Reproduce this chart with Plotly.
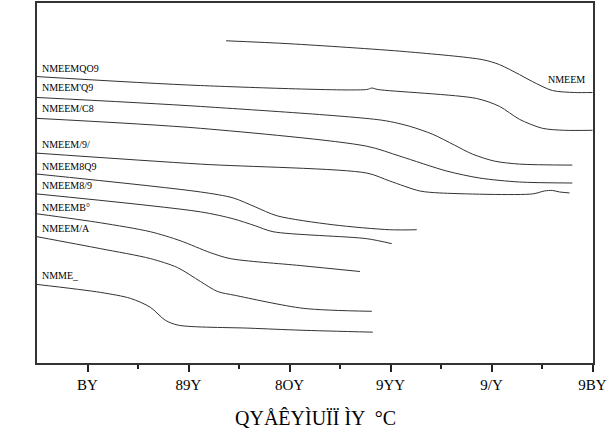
import plotly.graph_objects as go

# Temperature (°C) and heat-flow (a.u.)
temp_T = [134.9, 160.2, 206.4, 236.5, 243.2, 251.1, 256.2, 264.1, 272.8, 280]
flow_T = [324, 321, 313, 305, 300, 290, 283, 274, 272, 272]

temp_A = [60, 124.7, 190.6, 192.6, 195, 234.1, 243.2, 251.1, 260.2, 268.9, 280]
flow_A = [288, 279, 275, 276.5, 275, 266, 258, 245, 236, 234, 234]

temp_B = [60, 124.7, 197.0, 207.6, 216.7, 225.4, 232.5, 241.2, 251.1, 272.0]
flow_B = [267, 258, 244, 238, 230, 219, 210, 203, 200, 199]

temp_C = [60, 124.7, 190.6, 203.7, 222.3, 235.3, 251.1, 272.0]
flow_C = [246, 236, 218, 208, 193, 186, 182, 181]

temp_D = [60, 124.7, 190.6, 199.7, 211.6, 219.5, 256.2, 261.0, 264.1, 266.9, 270.9]
flow_D = [211, 200, 191, 183, 173, 171, 170, 173, 173.5, 172, 171]

temp_E = [60, 124.7, 137.7, 146.4, 155.1, 177.2, 199.7, 210.4]
flow_E = [190, 172, 166, 157, 148, 139, 134, 134]

temp_F = [60, 124.7, 137.7, 146.4, 153.5, 190.6, 200.5]
flow_F = [170, 152, 145, 138, 132, 125, 120]

temp_G = [60, 85.1, 104.9, 116.7, 128.6, 136.5, 164.2, 187.9]
flow_G = [150, 141, 132, 123, 111, 105, 98, 92]

temp_H = [60, 85.1, 104.9, 115.6, 124.7, 131.4, 138.5, 165.4, 192.6]
flow_H = [127, 115, 105, 96, 82, 72, 68, 55, 52]

temp_I = [60, 85.1, 97.0, 104.9, 110.8, 116.0, 144.4, 164.2, 193.0]
flow_I = [79, 71, 65, 56, 43, 38, 35, 33, 31]

series = [
    (temp_T, flow_T), (temp_A, flow_A), (temp_B, flow_B), (temp_C, flow_C),
    (temp_D, flow_D), (temp_E, flow_E), (temp_F, flow_F), (temp_G, flow_G),
    (temp_H, flow_H), (temp_I, flow_I),
]

# Curve labels (as they appear)
left_labels = ["NMEEMQO9", "NMEEM'Q9", "NMEEM/C8", "NMEEM/9/", "NMEEM8Q9",
               "NMEEM8/9", "NMEEMB°", "NMEEM/A", "NMME_"]
left_label_flow = [296, 277, 256, 220, 198, 178, 156, 135, 88]
right_label = "NMEEM"
right_label_pos = (269.7, 285)

tick_vals = [80, 120, 160, 200, 240, 280]
tick_text = ["BY", "89Y", "8OY", "9YY", "9/Y", "9BY"]
minor_vals = [100, 140, 180, 220, 260]
x_title = "QYÅÊYÌUÏÏ ÌY  °C"

FONT = "Liberation Serif"

fig = go.Figure()
for tx, fy in series:
    fig.add_trace(go.Scatter(x=tx, y=fy, mode="lines",
                             line=dict(color="#333333", width=1, shape="spline", smoothing=0.8),
                             showlegend=False, hoverinfo="skip"))

for lab, fy in zip(left_labels, left_label_flow):
    fig.add_annotation(x=61.0, y=fy, xref="x", yref="y", text=lab, showarrow=False,
                       xanchor="left", yanchor="middle",
                       font=dict(family=FONT, size=10, color="black"))
fig.add_annotation(x=right_label_pos[0], y=right_label_pos[1], xref="x", yref="y",
                   text=right_label, showarrow=False, xanchor="center", yanchor="middle",
                   font=dict(family=FONT, size=10, color="black"))

fig.add_annotation(x=0.5, y=-0.152, xref="paper", yref="paper", text=x_title,
                   showarrow=False, xanchor="center", yanchor="middle",
                   font=dict(family=FONT, size=20, color="black"))

fig.update_layout(
    width=608, height=434,
    margin=dict(l=37, r=15, t=1, b=71),
    plot_bgcolor="white", paper_bgcolor="white",
    xaxis=dict(range=[60, 280.2], tickmode="array", tickvals=tick_vals, ticktext=tick_text,
               ticks="outside", ticklen=7, tickwidth=1.5, tickcolor="#222",
               showline=True, linecolor="#333", linewidth=2, mirror=True,
               showgrid=False, zeroline=False, ticklabeloverflow="allow",
               tickfont=dict(family=FONT, size=15, color="black"),
               minor=dict(tickvals=minor_vals, ticks="outside", ticklen=4, tickwidth=1.5,
                          tickcolor="#222", showgrid=False)),
    yaxis=dict(range=[0, 362], showticklabels=False, ticks="", showgrid=False,
               zeroline=False, showline=True, linecolor="#333", linewidth=2, mirror=True),
)

fig.write_html("out.html")
